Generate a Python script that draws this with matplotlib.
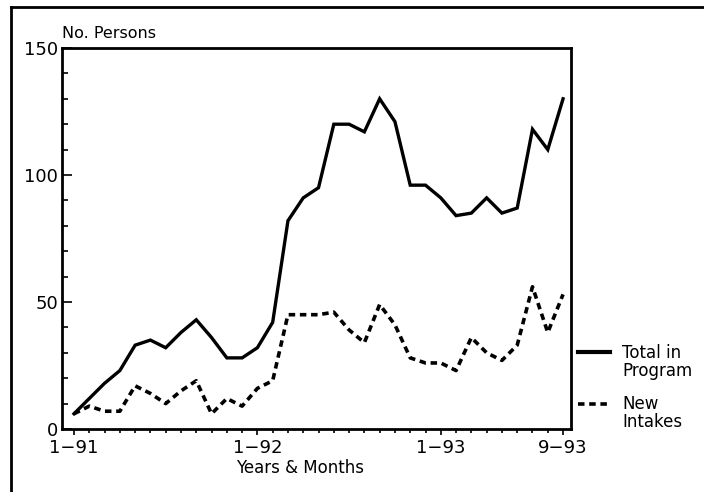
import matplotlib
matplotlib.use("Agg")
from matplotlib import pyplot
from matplotlib.lines import Line2D
from matplotlib.ticker import MultipleLocator

# months from 1-91 (0) to 9-93 (32)
months = list(range(33))
total_in_program = [6, 12, 18, 23, 33, 35, 32, 38, 43, 36, 28, 28, 32, 42, 82,
                    91, 95, 120, 120, 117, 130, 121, 96, 96, 91, 84, 85, 91,
                    85, 87, 118, 110, 130]
new_intakes = [6, 9, 7, 7, 17, 14, 10, 15, 19, 6, 12, 9, 16, 19, 45,
               45, 45, 46, 39, 34, 49, 41, 28, 26, 26, 23, 36, 30,
               27, 33, 56, 38, 53]
tick_pos = [0, 12, 24, 32]
tick_labels = ['1\u221291', '1\u221292', '1\u221293', '9\u221293']

pyplot.rcParams['font.family'] = ['DejaVu Sans']

fig = pyplot.figure(figsize=(7.04, 4.92), dpi=100)
ax = fig.add_axes([62 / 704, 1 - 429 / 492, 509 / 704, 381 / 492])

ax.plot(months, total_in_program, color='black', lw=2.4,
        solid_joinstyle='miter')
ax.plot(months, new_intakes, color='black', lw=2.6, dashes=(1.8, 1.3))

ax.set_xlim(-0.785, 32.52)
ax.set_ylim(0, 150)
ax.set_xticks(tick_pos)
ax.set_xticklabels(tick_labels, fontsize=13)
ax.xaxis.set_minor_locator(MultipleLocator(1))
ax.yaxis.set_major_locator(MultipleLocator(50))
ax.yaxis.set_minor_locator(MultipleLocator(10))
ax.tick_params(axis='y', which='major', direction='in', length=7, width=1.2,
               labelsize=13, pad=3)
ax.tick_params(axis='y', which='minor', direction='in', length=4, width=1.2)
ax.tick_params(axis='x', which='major', direction='out', length=4, width=1.2,
               labelsize=13, pad=3)
ax.tick_params(axis='x', which='minor', direction='out', length=3, width=1.2)
for s in ax.spines.values():
    s.set_linewidth(2)

fig.text(62 / 704, 1 - 33 / 492, 'No. Persons', fontsize=11.5,
         ha='left', va='center')
fig.text(300 / 704, 1 - 468 / 492, 'Years & Months', fontsize=12,
         ha='center', va='center')

# legend to the right of the plot
fig.add_artist(Line2D([578 / 704, 610 / 704], [1 - 352 / 492, 1 - 352 / 492],
                      color='black', lw=3))
fig.add_artist(Line2D([578 / 704, 610 / 704], [1 - 404 / 492, 1 - 404 / 492],
                      color='black', lw=2.6, dashes=(1.8, 1.3)))
fig.text(622 / 704, 1 - 362 / 492, 'Total in\nProgram', fontsize=12,
         ha='left', va='center', linespacing=0.95)
fig.text(622 / 704, 1 - 413 / 492, 'New\nIntakes', fontsize=12,
         ha='left', va='center', linespacing=0.95)

# outer frame (top and left edges visible)
fig.add_artist(Line2D([11 / 704, 1], [1 - 7 / 492, 1 - 7 / 492],
                      color='black', lw=2))
fig.add_artist(Line2D([11 / 704, 11 / 704], [0, 1 - 7 / 492],
                      color='black', lw=2))

pyplot.savefig('out.png', dpi=100)
